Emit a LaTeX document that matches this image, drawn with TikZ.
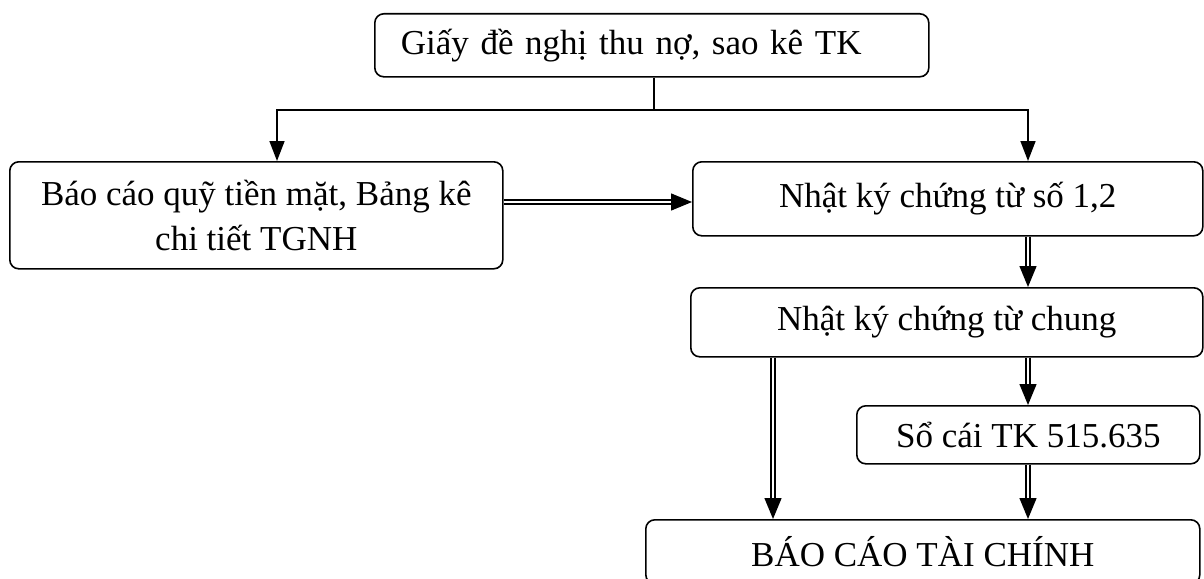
\documentclass[tikz,border=0pt]{standalone}
\usepackage{fontspec}
\setmainfont{Liberation Serif}
\usetikzlibrary{arrows.meta}
\begin{document}
\begin{tikzpicture}[x=1pt,y=-1pt,
  box/.style={draw,line width=1.6pt,rounded corners=9pt,inner sep=0pt,anchor=north west,align=center,font=\fontsize{35}{45}\selectfont},
  single/.style={line width=1.6pt,-{Triangle[width=15pt,length=20pt]}},
  dbl/.style={double,line width=1.4pt,double distance=2.6pt,-{Triangle[width=17pt,length=21pt]}}]
\clip (0,0) rectangle (1204,578);
\useasboundingbox (0,0) rectangle (1204,578);
\node[box,minimum width=554pt,minimum height=63pt,text width=502pt,align=left] (top) at (374,13) {Giấy đề nghị thu nợ, sao kê TK};
\node[box,minimum width=493pt,minimum height=107pt] (lbox) at (9,161) {Báo cáo quỹ tiền mặt, Bảng kê\\chi tiết TGNH};
\node[box,minimum width=510pt,minimum height=74pt] (n12) at (692,161) {Nhật ký chứng từ số 1,2};
\node[box,minimum width=512pt,minimum height=69pt] (chung) at (690,287) {Nhật ký chứng từ chung};
\node[box,minimum width=343pt,minimum height=58pt] (socai) at (856,405) {Sổ cái TK 515.635};
\node[box,minimum width=554pt,minimum height=64pt] (bctc) at (645,519) {BÁO CÁO TÀI CHÍNH};
\coordinate (j) at (654,110);
\coordinate (xl) at (277,0);
\coordinate (xr) at (1028,0);
\coordinate (xm) at (773,0);
\coordinate (ya) at (0,202);
\draw[line width=1.6pt] (top.south -| j) -- (j);
\draw[single] (j) -| (lbox.north -| xl);
\draw[single] (j) -| (n12.north -| xr);
\draw[dbl] (lbox.east |- ya) -- (n12.west |- ya);
\draw[dbl] (n12.south -| xr) -- (chung.north -| xr);
\draw[dbl] (chung.south -| xr) -- (socai.north -| xr);
\draw[dbl] (socai.south -| xr) -- (bctc.north -| xr);
\draw[dbl] (chung.south -| xm) -- (bctc.north -| xm);
\end{tikzpicture}
\end{document}
